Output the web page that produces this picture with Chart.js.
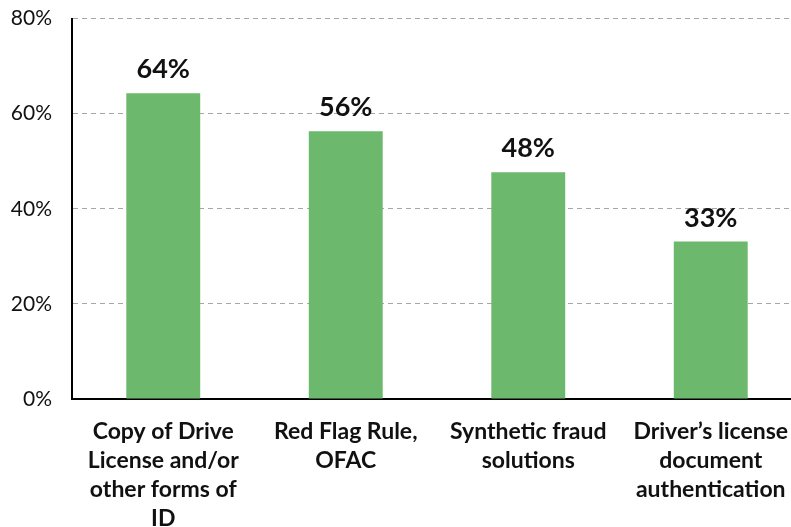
<!DOCTYPE html>
<html><head><meta charset="utf-8">
<script src="https://cdn.jsdelivr.net/npm/chart.js@4/dist/chart.umd.min.js"></script>
<style>
html,body{margin:0;padding:0;overflow:hidden;background:#fff;width:791px;height:527px;}
#wrap{position:absolute;left:0;top:-14px;width:820px;height:541px;}
</style></head>
<body><div id="wrap"><canvas id="c" width="820" height="541"></canvas></div>
<script>
const categories = [
  ["Copy of Drive", "License and/or", "other forms of", "ID"],
  ["Red Flag Rule,", "OFAC"],
  ["Synthetic fraud", "solutions"],
  ["Driver\u2019s license", "document", "authentication"]
];
const values = [64.3, 56.3, 47.7, 33.1];
const valueLabels = ["64%", "56%", "48%", "33%"];
const yTicks = [0, 20, 40, 60, 80];

const labelPlugin = {
  id: 'valLabels',
  afterDatasetsDraw(chart) {
    const ctx = chart.ctx;
    const meta = chart.getDatasetMeta(0);
    ctx.save();
    ctx.font = 'bold 27px Lato';
    ctx.fillStyle = '#111';
    ctx.textAlign = 'center';
    ctx.textBaseline = 'alphabetic';
    meta.data.forEach((bar, i) => {
      ctx.fillText(valueLabels[i], bar.x, bar.y - 15);
    });
    ctx.restore();
  }
};

new Chart(document.getElementById('c'), {
  type: 'bar',
  data: {
    labels: categories,
    datasets: [{
      data: values,
      backgroundColor: '#6cb86c',
      barPercentage: 0.405,
      categoryPercentage: 1.0
    }]
  },
  options: {
    responsive: false,
    animation: false,
    layout: { padding: { top: 3, right: 18, left: 0, bottom: 0 } },
    plugins: { legend: { display: false }, tooltip: { enabled: false } },
    scales: {
      x: {
        grid: { display: false, drawTicks: false },
        border: { display: true, color: '#000', width: 2 },
        ticks: {
          color: '#111',
          font: { family: 'Lato', size: 23, weight: 'bold', lineHeight: 1.26 },
          padding: 18,
          maxRotation: 0,
          autoSkip: false
        },
        afterFit(scale) { scale.height = 128; }
      },
      y: {
        min: 0, max: 80,
        afterBuildTicks(scale) { scale.ticks = yTicks.map(v => ({ value: v })); },
        grid: { color: '#a6a6a6', lineWidth: 1, drawTicks: false },
        border: { display: true, color: '#000', width: 2, dash: [5, 4] },
        ticks: {
          color: '#111',
          font: { family: 'Lato', size: 21 },
          padding: 20,
          callback: v => v + '%'
        },
        afterFit(scale) { scale.width = 72; }
      }
    }
  },
  plugins: [labelPlugin]
});
</script></body></html>
